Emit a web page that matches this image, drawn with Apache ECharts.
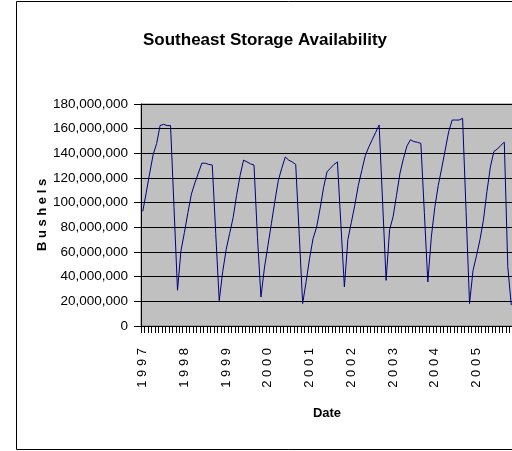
<!DOCTYPE html>
<html>
<head>
<meta charset="utf-8">
<script src="https://cdn.jsdelivr.net/npm/echarts@6/dist/echarts.min.js"></script>
<style>
  html, body { margin: 0; padding: 0; background: #fff; overflow: hidden; }
  #main { width: 560px; height: 451px; }
</style>
</head>
<body>
<div id="main"></div>
<script>
// year tick labels, one per 12 months
var yearLabels = ['1997', '1998', '1999', '2000', '2001', '2002', '2003', '2004', '2005'];
var monthNames = ['Jan', 'Feb', 'Mar', 'Apr', 'May', 'Jun', 'Jul', 'Aug', 'Sep', 'Oct', 'Nov', 'Dec'];

// monthly storage, millions of bushels
var bushels = [
    93, 108, 124, 139, 148, 162.6, 163.5, 162.5, 162.5, 96, 29,
    61, 76, 92, 107, 116, 124, 132, 132, 131, 130.5, 75, 20.5,
    44, 62, 75, 88, 106, 122, 134.5, 133, 131.5, 130.5, 72, 23.5,
    47, 65, 83, 101, 118, 128, 137, 134.5, 133, 131, 75, 18.2,
    36, 55, 71, 80, 95, 112, 125, 128, 131, 133, 82, 31.7,
    70, 84, 98, 114, 126, 138, 145, 151, 157, 163, 100, 37,
    78, 88.5, 106, 124, 136, 146, 151, 149.5, 149, 148, 92, 35.7,
    72, 96, 114, 128, 142.7, 157.5, 167, 167, 167, 168.4, 93, 18.2,
    45, 57, 70, 86, 109, 129, 141.5, 143.5, 146.5, 149, 48, 17
];

var categories = [];
for (var i = 0; i < bushels.length; i++) {
    categories.push(monthNames[i % 12] + ' ' + yearLabels[Math.floor(i / 12)]);
}
var values = bushels.map(function (v) { return Math.round(v * 1000000); });

var font = "'Liberation Sans', Arial, sans-serif";

var myChart = echarts.init(document.getElementById('main'));
var option = {
    backgroundColor: '#fff',
    animation: false,
    title: {
        text: 'Southeast Storage Availability',
        left: 138,
        top: 27,
        textStyle: { fontFamily: font, fontSize: 17, fontWeight: 'bold', color: '#000' }
    },
    graphic: [{
        type: 'rect',
        shape: { x: 16.5, y: 1.5, width: 600, height: 448 },
        style: { fill: 'none', stroke: '#000', lineWidth: 1 },
        z: -1
    }],
    grid: { left: 141, top: 104, right: 47, bottom: 125, show: true, backgroundColor: '#c0c0c0', borderColor: '#808080', borderWidth: 1 },
    xAxis: {
        type: 'category',
        data: categories,
        boundaryGap: true,
        name: 'Date',
        nameLocation: 'middle',
        nameGap: 81,
        nameMoveOverlap: false,
        nameTextStyle: { fontFamily: font, fontSize: 13, fontWeight: 'bold', color: '#000' },
        axisLine: { show: true, lineStyle: { color: '#000', width: 1 } },
        axisTick: { show: true, interval: 0, length: 7, lineStyle: { color: '#000', width: 1 } },
        axisLabel: {
            interval: 11,
            rotate: 90,
            margin: 22,
            fontFamily: font,
            fontSize: 13,
            color: '#000',
            formatter: function (v) { return v.slice(-4).split('').join(' '); }
        },
        splitLine: { show: false }
    },
    yAxis: {
        type: 'value',
        min: 0,
        max: 180000000,
        interval: 20000000,
        name: 'B u s h e l s',
        nameLocation: 'middle',
        nameGap: 92,
        nameMoveOverlap: false,
        nameTextStyle: { fontFamily: font, fontSize: 13, fontWeight: 'bold', color: '#000' },
        axisLine: { show: true, lineStyle: { color: '#000', width: 1 } },
        axisTick: { show: true, length: 7, lineStyle: { color: '#000' } },
        axisLabel: {
            margin: 13,
            fontFamily: font,
            fontSize: 13.5,
            color: '#000',
            formatter: function (v) { return v.toLocaleString('en-US'); }
        },
        splitLine: { show: true, lineStyle: { color: '#000', width: 1 } }
    },
    series: [{
        type: 'line',
        data: values,
        showSymbol: false,
        symbol: 'none',
        lineStyle: { color: '#000080', width: 1 },
        itemStyle: { color: '#000080' }
    }]
};
myChart.setOption(option);
</script>
</body>
</html>
